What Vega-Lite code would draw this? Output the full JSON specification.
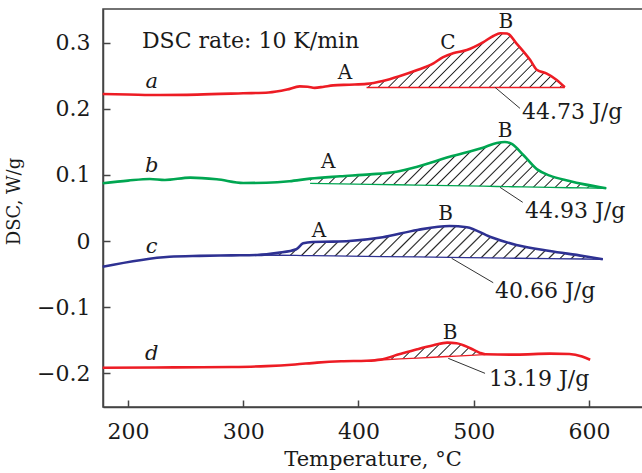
{
"$schema":"https://vega.github.io/schema/vega-lite/v6.json",
"autosize":{"type":"none"},
"padding":{"left":103,"top":9,"right":0,"bottom":66},
"width":539,"height":398,
"background":"white",
"config":{
 "view":{"stroke":"#444","strokeWidth":1.5,"strokeDash":[539,398,1000,0]},
 "font":"DejaVu Serif",
 "axis":{"grid":false,"domainColor":"#444","domainWidth":1.5,"tickColor":"#444","tickWidth":1.5,"tickSize":-7,"labelFont":"DejaVu Serif","labelFontSize":22,"labelColor":"#1a1a1a","titleFont":"DejaVu Serif","titleFontWeight":"normal","titleColor":"#1a1a1a"},
 "text":{"font":"DejaVu Serif","color":"#1a1a1a"}
},
"datasets":{
 "curves":[
  {"s":"a","T":178,"v":0.2227},{"s":"a","T":200,"v":0.2220},{"s":"a","T":228,"v":0.2212},{"s":"a","T":260,"v":0.2218},{"s":"a","T":300,"v":0.2238},{"s":"a","T":322,"v":0.2250},{"s":"a","T":338,"v":0.2295},{"s":"a","T":349,"v":0.2342},{"s":"a","T":356,"v":0.2336},{"s":"a","T":362,"v":0.2320},{"s":"a","T":370,"v":0.2338},{"s":"a","T":378,"v":0.2358},{"s":"a","T":392,"v":0.2368},
  {"s":"a","T":407,"v":0.2380,"base":0.2326},{"s":"a","T":421,"v":0.2424,"base":0.2326},{"s":"a","T":436,"v":0.2500,"base":0.2326},{"s":"a","T":451,"v":0.2590,"base":0.2326},{"s":"a","T":465,"v":0.2692,"base":0.2326},{"s":"a","T":473,"v":0.2783,"base":0.2326},{"s":"a","T":482,"v":0.2844,"base":0.2326},{"s":"a","T":494,"v":0.2894,"base":0.2326},{"s":"a","T":508,"v":0.3010,"base":0.2326},{"s":"a","T":517,"v":0.3106,"base":0.2326},{"s":"a","T":523,"v":0.3148,"base":0.2326},{"s":"a","T":529,"v":0.3144,"base":0.2326},{"s":"a","T":537,"v":0.2995,"base":0.2326},{"s":"a","T":549,"v":0.2742,"base":0.2326},{"s":"a","T":555,"v":0.2590,"base":0.2326},{"s":"a","T":563,"v":0.2540,"base":0.2326},{"s":"a","T":572,"v":0.2440,"base":0.2326},{"s":"a","T":579,"v":0.2329,"base":0.2326},
  {"s":"b","T":178,"v":0.0874},{"s":"b","T":200,"v":0.0915},{"s":"b","T":219,"v":0.0940},{"s":"b","T":232,"v":0.0925},{"s":"b","T":254,"v":0.0960},{"s":"b","T":277,"v":0.0935},{"s":"b","T":300,"v":0.0879},{"s":"b","T":320,"v":0.0883},{"s":"b","T":340,"v":0.0905},
  {"s":"b","T":358,"v":0.0945,"base":0.0874},{"s":"b","T":384,"v":0.0980,"base":0.0866},{"s":"b","T":410,"v":0.1010,"base":0.0859},{"s":"b","T":433,"v":0.1050,"base":0.0852},{"s":"b","T":451,"v":0.1126,"base":0.0846},{"s":"b","T":479,"v":0.1277,"base":0.0838},{"s":"b","T":508,"v":0.1414,"base":0.0830},{"s":"b","T":520,"v":0.1485,"base":0.0826},{"s":"b","T":527,"v":0.1500,"base":0.0824},{"s":"b","T":533,"v":0.1470,"base":0.0822},{"s":"b","T":543,"v":0.1303,"base":0.0819},{"s":"b","T":555,"v":0.1085,"base":0.0816},{"s":"b","T":566,"v":0.0990,"base":0.0812},{"s":"b","T":583,"v":0.0910,"base":0.0807},{"s":"b","T":595,"v":0.0862,"base":0.0804},{"s":"b","T":615,"v":0.0798,"base":0.0798},
  {"s":"c","T":178,"v":-0.0390},{"s":"c","T":236,"v":-0.0238},{"s":"c","T":262,"v":-0.0225},{"s":"c","T":290,"v":-0.0218},
  {"s":"c","T":312,"v":-0.0212,"base":-0.0212},{"s":"c","T":330,"v":-0.0180,"base":-0.0216},{"s":"c","T":346,"v":-0.0125,"base":-0.0219},{"s":"c","T":352,"v":-0.0035,"base":-0.0221},{"s":"c","T":360,"v":-0.0015,"base":-0.0222},{"s":"c","T":378,"v":-0.0010,"base":-0.0226},{"s":"c","T":392,"v":0.0000,"base":-0.0229},{"s":"c","T":421,"v":0.0056,"base":-0.0236},{"s":"c","T":451,"v":0.0167,"base":-0.0242},{"s":"c","T":479,"v":0.0227,"base":-0.0248},{"s":"c","T":494,"v":0.0208,"base":-0.0251},{"s":"c","T":514,"v":0.0065,"base":-0.0256},{"s":"c","T":537,"v":-0.0060,"base":-0.0261},{"s":"c","T":566,"v":-0.0152,"base":-0.0267},{"s":"c","T":595,"v":-0.0227,"base":-0.0273},{"s":"c","T":612,"v":-0.0277,"base":-0.0277},
  {"s":"d","T":178,"v":-0.1920},{"s":"d","T":240,"v":-0.1915},{"s":"d","T":290,"v":-0.1908},{"s":"d","T":320,"v":-0.1895},{"s":"d","T":345,"v":-0.1870},{"s":"d","T":364,"v":-0.1842},{"s":"d","T":385,"v":-0.1822},{"s":"d","T":407,"v":-0.1814},
  {"s":"d","T":419,"v":-0.1797,"base":-0.1803},{"s":"d","T":436,"v":-0.1712,"base":-0.1787},{"s":"d","T":451,"v":-0.1640,"base":-0.1774},{"s":"d","T":465,"v":-0.1580,"base":-0.1761},{"s":"d","T":477,"v":-0.1540,"base":-0.1750},{"s":"d","T":485,"v":-0.1548,"base":-0.1743},{"s":"d","T":497,"v":-0.1625,"base":-0.1732},{"s":"d","T":505,"v":-0.1692,"base":-0.1725},{"s":"d","T":510,"v":-0.1716,"base":-0.1720},
  {"s":"d","T":537,"v":-0.1722},{"s":"d","T":566,"v":-0.1707},{"s":"d","T":583,"v":-0.1712},{"s":"d","T":594,"v":-0.1750},{"s":"d","T":601,"v":-0.1800}
 ],
 "leaders":[
  {"T":518.4,"v":0.2329,"T2":540.1,"v2":0.2010},
  {"T":522.8,"v":0.0813,"T2":542.5,"v2":0.0586},
  {"T":480.8,"v":-0.0262,"T2":516.9,"v2":-0.0632},
  {"T":477.9,"v":-0.1778,"T2":509.8,"v2":-0.2005}
 ],
 "letters":[
  {"T":220.6,"v":0.2313,"label":"a"},
  {"T":220.6,"v":0.1050,"label":"b"},
  {"T":220.6,"v":-0.0187,"label":"c"},
  {"T":220.6,"v":-0.1803,"label":"d"}
 ],
 "peaks":[
  {"T":388.3,"v":0.2454,"label":"A"},
  {"T":477.6,"v":0.2909,"label":"C"},
  {"T":527.9,"v":0.3232,"label":"B"},
  {"T":373.8,"v":0.1101,"label":"A"},
  {"T":527.1,"v":0.1570,"label":"B"},
  {"T":365.7,"v":0.0065,"label":"A"},
  {"T":475.6,"v":0.0318,"label":"B"},
  {"T":479.4,"v":-0.1490,"label":"B"}
 ],
 "values":[
  {"T":541.9,"v":0.1844,"label":"44.73 J/g"},
  {"T":544.5,"v":0.0344,"label":"44.93 J/g"},
  {"T":518.4,"v":-0.0868,"label":"40.66 J/g"},
  {"T":513.2,"v":-0.2197,"label":"13.19 J/g"}
 ],
 "heading":[
  {"T":212.1,"v":0.2919,"label":"DSC rate: 10 K/min"}
 ]
},
"encoding":{
 "x":{"field":"T","type":"quantitative","scale":{"domain":[178.3,646],"nice":false,"zero":false},"axis":{"values":[200,300,400,500,600],"title":"Temperature, °C","titleFontSize":21,"labelPadding":21,"titleY":41}},
 "y":{"field":"v","type":"quantitative","scale":{"domain":[-0.2515,0.3515],"nice":false,"zero":false},"axis":{"values":[-0.2,-0.1,0,0.1,0.2,0.3],"labelExpr":"datum.value == 0 ? '0' : format(datum.value, '.1f')","title":"DSC, W/g","titleFontSize":18,"labelPadding":20,"titleX":-80,"titleY":192}}
},
"layer":[
 {"data":{"name":"curves"},"transform":[{"filter":"datum.s == 'a' && datum.base != null"}],
  "mark":{"type":"area","interpolate":"monotone","opacity":1,"fill":{"gradient":"linear","x1":0,"y1":0,"x2":1.1848,"y2":0.3235,"stops":[
   {"offset":0.015,"color":"rgba(0,0,0,0)"},{"offset":0.02,"color":"#222"},{"offset":0.025,"color":"rgba(0,0,0,0)"},
   {"offset":0.055,"color":"rgba(0,0,0,0)"},{"offset":0.06,"color":"#222"},{"offset":0.065,"color":"rgba(0,0,0,0)"},
   {"offset":0.095,"color":"rgba(0,0,0,0)"},{"offset":0.1,"color":"#222"},{"offset":0.105,"color":"rgba(0,0,0,0)"},
   {"offset":0.135,"color":"rgba(0,0,0,0)"},{"offset":0.14,"color":"#222"},{"offset":0.145,"color":"rgba(0,0,0,0)"},
   {"offset":0.175,"color":"rgba(0,0,0,0)"},{"offset":0.18,"color":"#222"},{"offset":0.185,"color":"rgba(0,0,0,0)"},
   {"offset":0.215,"color":"rgba(0,0,0,0)"},{"offset":0.22,"color":"#222"},{"offset":0.225,"color":"rgba(0,0,0,0)"},
   {"offset":0.255,"color":"rgba(0,0,0,0)"},{"offset":0.26,"color":"#222"},{"offset":0.265,"color":"rgba(0,0,0,0)"},
   {"offset":0.295,"color":"rgba(0,0,0,0)"},{"offset":0.3,"color":"#222"},{"offset":0.305,"color":"rgba(0,0,0,0)"},
   {"offset":0.335,"color":"rgba(0,0,0,0)"},{"offset":0.34,"color":"#222"},{"offset":0.345,"color":"rgba(0,0,0,0)"},
   {"offset":0.375,"color":"rgba(0,0,0,0)"},{"offset":0.38,"color":"#222"},{"offset":0.385,"color":"rgba(0,0,0,0)"},
   {"offset":0.415,"color":"rgba(0,0,0,0)"},{"offset":0.42,"color":"#222"},{"offset":0.425,"color":"rgba(0,0,0,0)"},
   {"offset":0.455,"color":"rgba(0,0,0,0)"},{"offset":0.46,"color":"#222"},{"offset":0.465,"color":"rgba(0,0,0,0)"},
   {"offset":0.495,"color":"rgba(0,0,0,0)"},{"offset":0.5,"color":"#222"},{"offset":0.505,"color":"rgba(0,0,0,0)"},
   {"offset":0.535,"color":"rgba(0,0,0,0)"},{"offset":0.54,"color":"#222"},{"offset":0.545,"color":"rgba(0,0,0,0)"},
   {"offset":0.575,"color":"rgba(0,0,0,0)"},{"offset":0.58,"color":"#222"},{"offset":0.585,"color":"rgba(0,0,0,0)"},
   {"offset":0.615,"color":"rgba(0,0,0,0)"},{"offset":0.62,"color":"#222"},{"offset":0.625,"color":"rgba(0,0,0,0)"},
   {"offset":0.655,"color":"rgba(0,0,0,0)"},{"offset":0.66,"color":"#222"},{"offset":0.665,"color":"rgba(0,0,0,0)"},
   {"offset":0.695,"color":"rgba(0,0,0,0)"},{"offset":0.7,"color":"#222"},{"offset":0.705,"color":"rgba(0,0,0,0)"},
   {"offset":0.735,"color":"rgba(0,0,0,0)"},{"offset":0.74,"color":"#222"},{"offset":0.745,"color":"rgba(0,0,0,0)"},
   {"offset":0.775,"color":"rgba(0,0,0,0)"},{"offset":0.78,"color":"#222"},{"offset":0.785,"color":"rgba(0,0,0,0)"},
   {"offset":0.815,"color":"rgba(0,0,0,0)"},{"offset":0.82,"color":"#222"},{"offset":0.825,"color":"rgba(0,0,0,0)"},
   {"offset":0.855,"color":"rgba(0,0,0,0)"},{"offset":0.86,"color":"#222"},{"offset":0.865,"color":"rgba(0,0,0,0)"},
   {"offset":0.895,"color":"rgba(0,0,0,0)"},{"offset":0.9,"color":"#222"},{"offset":0.905,"color":"rgba(0,0,0,0)"},
   {"offset":0.935,"color":"rgba(0,0,0,0)"},{"offset":0.94,"color":"#222"},{"offset":0.945,"color":"rgba(0,0,0,0)"},
   {"offset":0.975,"color":"rgba(0,0,0,0)"},{"offset":0.98,"color":"#222"},{"offset":0.985,"color":"rgba(0,0,0,0)"}
  ]}},
  "encoding":{"y2":{"field":"base"}}},
 {"data":{"name":"curves"},"transform":[{"filter":"datum.s == 'b' && datum.base != null"}],
  "mark":{"type":"area","interpolate":"monotone","opacity":1,"fill":{"gradient":"linear","x1":0,"y1":0,"x2":1.1287,"y2":0.1764,"stops":[
   {"offset":0.012,"color":"rgba(0,0,0,0)"},{"offset":0.016,"color":"#222"},{"offset":0.02,"color":"rgba(0,0,0,0)"},
   {"offset":0.044,"color":"rgba(0,0,0,0)"},{"offset":0.048,"color":"#222"},{"offset":0.052,"color":"rgba(0,0,0,0)"},
   {"offset":0.076,"color":"rgba(0,0,0,0)"},{"offset":0.08,"color":"#222"},{"offset":0.084,"color":"rgba(0,0,0,0)"},
   {"offset":0.108,"color":"rgba(0,0,0,0)"},{"offset":0.112,"color":"#222"},{"offset":0.116,"color":"rgba(0,0,0,0)"},
   {"offset":0.14,"color":"rgba(0,0,0,0)"},{"offset":0.144,"color":"#222"},{"offset":0.148,"color":"rgba(0,0,0,0)"},
   {"offset":0.172,"color":"rgba(0,0,0,0)"},{"offset":0.176,"color":"#222"},{"offset":0.18,"color":"rgba(0,0,0,0)"},
   {"offset":0.204,"color":"rgba(0,0,0,0)"},{"offset":0.208,"color":"#222"},{"offset":0.212,"color":"rgba(0,0,0,0)"},
   {"offset":0.236,"color":"rgba(0,0,0,0)"},{"offset":0.24,"color":"#222"},{"offset":0.244,"color":"rgba(0,0,0,0)"},
   {"offset":0.268,"color":"rgba(0,0,0,0)"},{"offset":0.272,"color":"#222"},{"offset":0.276,"color":"rgba(0,0,0,0)"},
   {"offset":0.3,"color":"rgba(0,0,0,0)"},{"offset":0.304,"color":"#222"},{"offset":0.308,"color":"rgba(0,0,0,0)"},
   {"offset":0.332,"color":"rgba(0,0,0,0)"},{"offset":0.336,"color":"#222"},{"offset":0.34,"color":"rgba(0,0,0,0)"},
   {"offset":0.364,"color":"rgba(0,0,0,0)"},{"offset":0.368,"color":"#222"},{"offset":0.372,"color":"rgba(0,0,0,0)"},
   {"offset":0.396,"color":"rgba(0,0,0,0)"},{"offset":0.4,"color":"#222"},{"offset":0.404,"color":"rgba(0,0,0,0)"},
   {"offset":0.428,"color":"rgba(0,0,0,0)"},{"offset":0.432,"color":"#222"},{"offset":0.436,"color":"rgba(0,0,0,0)"},
   {"offset":0.46,"color":"rgba(0,0,0,0)"},{"offset":0.464,"color":"#222"},{"offset":0.468,"color":"rgba(0,0,0,0)"},
   {"offset":0.492,"color":"rgba(0,0,0,0)"},{"offset":0.496,"color":"#222"},{"offset":0.5,"color":"rgba(0,0,0,0)"},
   {"offset":0.524,"color":"rgba(0,0,0,0)"},{"offset":0.528,"color":"#222"},{"offset":0.532,"color":"rgba(0,0,0,0)"},
   {"offset":0.556,"color":"rgba(0,0,0,0)"},{"offset":0.56,"color":"#222"},{"offset":0.564,"color":"rgba(0,0,0,0)"},
   {"offset":0.588,"color":"rgba(0,0,0,0)"},{"offset":0.592,"color":"#222"},{"offset":0.596,"color":"rgba(0,0,0,0)"},
   {"offset":0.62,"color":"rgba(0,0,0,0)"},{"offset":0.624,"color":"#222"},{"offset":0.628,"color":"rgba(0,0,0,0)"},
   {"offset":0.652,"color":"rgba(0,0,0,0)"},{"offset":0.656,"color":"#222"},{"offset":0.66,"color":"rgba(0,0,0,0)"},
   {"offset":0.684,"color":"rgba(0,0,0,0)"},{"offset":0.688,"color":"#222"},{"offset":0.692,"color":"rgba(0,0,0,0)"},
   {"offset":0.716,"color":"rgba(0,0,0,0)"},{"offset":0.72,"color":"#222"},{"offset":0.724,"color":"rgba(0,0,0,0)"},
   {"offset":0.748,"color":"rgba(0,0,0,0)"},{"offset":0.752,"color":"#222"},{"offset":0.756,"color":"rgba(0,0,0,0)"},
   {"offset":0.78,"color":"rgba(0,0,0,0)"},{"offset":0.784,"color":"#222"},{"offset":0.788,"color":"rgba(0,0,0,0)"},
   {"offset":0.812,"color":"rgba(0,0,0,0)"},{"offset":0.816,"color":"#222"},{"offset":0.82,"color":"rgba(0,0,0,0)"},
   {"offset":0.844,"color":"rgba(0,0,0,0)"},{"offset":0.848,"color":"#222"},{"offset":0.852,"color":"rgba(0,0,0,0)"},
   {"offset":0.876,"color":"rgba(0,0,0,0)"},{"offset":0.88,"color":"#222"},{"offset":0.884,"color":"rgba(0,0,0,0)"},
   {"offset":0.908,"color":"rgba(0,0,0,0)"},{"offset":0.912,"color":"#222"},{"offset":0.916,"color":"rgba(0,0,0,0)"},
   {"offset":0.94,"color":"rgba(0,0,0,0)"},{"offset":0.944,"color":"#222"},{"offset":0.948,"color":"rgba(0,0,0,0)"},
   {"offset":0.972,"color":"rgba(0,0,0,0)"},{"offset":0.976,"color":"#222"},{"offset":0.98,"color":"rgba(0,0,0,0)"}
  ]}},
  "encoding":{"y2":{"field":"base"}}},
 {"data":{"name":"curves"},"transform":[{"filter":"datum.s == 'c' && datum.base != null"}],
  "mark":{"type":"area","interpolate":"monotone","opacity":1,"fill":{"gradient":"linear","x1":0,"y1":0,"x2":1.0862,"y2":0.1046,"stops":[
   {"offset":0.011,"color":"rgba(0,0,0,0)"},{"offset":0.015,"color":"#222"},{"offset":0.019,"color":"rgba(0,0,0,0)"},
   {"offset":0.041,"color":"rgba(0,0,0,0)"},{"offset":0.045,"color":"#222"},{"offset":0.049,"color":"rgba(0,0,0,0)"},
   {"offset":0.071,"color":"rgba(0,0,0,0)"},{"offset":0.075,"color":"#222"},{"offset":0.079,"color":"rgba(0,0,0,0)"},
   {"offset":0.101,"color":"rgba(0,0,0,0)"},{"offset":0.105,"color":"#222"},{"offset":0.109,"color":"rgba(0,0,0,0)"},
   {"offset":0.131,"color":"rgba(0,0,0,0)"},{"offset":0.135,"color":"#222"},{"offset":0.139,"color":"rgba(0,0,0,0)"},
   {"offset":0.161,"color":"rgba(0,0,0,0)"},{"offset":0.165,"color":"#222"},{"offset":0.169,"color":"rgba(0,0,0,0)"},
   {"offset":0.191,"color":"rgba(0,0,0,0)"},{"offset":0.195,"color":"#222"},{"offset":0.199,"color":"rgba(0,0,0,0)"},
   {"offset":0.221,"color":"rgba(0,0,0,0)"},{"offset":0.225,"color":"#222"},{"offset":0.229,"color":"rgba(0,0,0,0)"},
   {"offset":0.251,"color":"rgba(0,0,0,0)"},{"offset":0.255,"color":"#222"},{"offset":0.259,"color":"rgba(0,0,0,0)"},
   {"offset":0.281,"color":"rgba(0,0,0,0)"},{"offset":0.285,"color":"#222"},{"offset":0.289,"color":"rgba(0,0,0,0)"},
   {"offset":0.311,"color":"rgba(0,0,0,0)"},{"offset":0.315,"color":"#222"},{"offset":0.319,"color":"rgba(0,0,0,0)"},
   {"offset":0.341,"color":"rgba(0,0,0,0)"},{"offset":0.345,"color":"#222"},{"offset":0.349,"color":"rgba(0,0,0,0)"},
   {"offset":0.371,"color":"rgba(0,0,0,0)"},{"offset":0.375,"color":"#222"},{"offset":0.379,"color":"rgba(0,0,0,0)"},
   {"offset":0.401,"color":"rgba(0,0,0,0)"},{"offset":0.405,"color":"#222"},{"offset":0.409,"color":"rgba(0,0,0,0)"},
   {"offset":0.431,"color":"rgba(0,0,0,0)"},{"offset":0.435,"color":"#222"},{"offset":0.439,"color":"rgba(0,0,0,0)"},
   {"offset":0.461,"color":"rgba(0,0,0,0)"},{"offset":0.465,"color":"#222"},{"offset":0.469,"color":"rgba(0,0,0,0)"},
   {"offset":0.491,"color":"rgba(0,0,0,0)"},{"offset":0.495,"color":"#222"},{"offset":0.499,"color":"rgba(0,0,0,0)"},
   {"offset":0.521,"color":"rgba(0,0,0,0)"},{"offset":0.525,"color":"#222"},{"offset":0.529,"color":"rgba(0,0,0,0)"},
   {"offset":0.551,"color":"rgba(0,0,0,0)"},{"offset":0.555,"color":"#222"},{"offset":0.559,"color":"rgba(0,0,0,0)"},
   {"offset":0.581,"color":"rgba(0,0,0,0)"},{"offset":0.585,"color":"#222"},{"offset":0.589,"color":"rgba(0,0,0,0)"},
   {"offset":0.611,"color":"rgba(0,0,0,0)"},{"offset":0.615,"color":"#222"},{"offset":0.619,"color":"rgba(0,0,0,0)"},
   {"offset":0.641,"color":"rgba(0,0,0,0)"},{"offset":0.645,"color":"#222"},{"offset":0.649,"color":"rgba(0,0,0,0)"},
   {"offset":0.671,"color":"rgba(0,0,0,0)"},{"offset":0.675,"color":"#222"},{"offset":0.679,"color":"rgba(0,0,0,0)"},
   {"offset":0.701,"color":"rgba(0,0,0,0)"},{"offset":0.705,"color":"#222"},{"offset":0.709,"color":"rgba(0,0,0,0)"},
   {"offset":0.731,"color":"rgba(0,0,0,0)"},{"offset":0.735,"color":"#222"},{"offset":0.739,"color":"rgba(0,0,0,0)"},
   {"offset":0.761,"color":"rgba(0,0,0,0)"},{"offset":0.765,"color":"#222"},{"offset":0.769,"color":"rgba(0,0,0,0)"},
   {"offset":0.791,"color":"rgba(0,0,0,0)"},{"offset":0.795,"color":"#222"},{"offset":0.799,"color":"rgba(0,0,0,0)"},
   {"offset":0.821,"color":"rgba(0,0,0,0)"},{"offset":0.825,"color":"#222"},{"offset":0.829,"color":"rgba(0,0,0,0)"},
   {"offset":0.851,"color":"rgba(0,0,0,0)"},{"offset":0.855,"color":"#222"},{"offset":0.859,"color":"rgba(0,0,0,0)"},
   {"offset":0.881,"color":"rgba(0,0,0,0)"},{"offset":0.885,"color":"#222"},{"offset":0.889,"color":"rgba(0,0,0,0)"},
   {"offset":0.911,"color":"rgba(0,0,0,0)"},{"offset":0.915,"color":"#222"},{"offset":0.919,"color":"rgba(0,0,0,0)"},
   {"offset":0.941,"color":"rgba(0,0,0,0)"},{"offset":0.945,"color":"#222"},{"offset":0.949,"color":"rgba(0,0,0,0)"},
   {"offset":0.971,"color":"rgba(0,0,0,0)"},{"offset":0.975,"color":"#222"},{"offset":0.979,"color":"rgba(0,0,0,0)"}
  ]}},
  "encoding":{"y2":{"field":"base"}}},
 {"data":{"name":"curves"},"transform":[{"filter":"datum.s == 'd' && datum.base != null"}],
  "mark":{"type":"area","interpolate":"monotone","opacity":1,"fill":{"gradient":"linear","x1":0,"y1":0,"x2":1.1341,"y2":0.1871,"stops":[
   {"offset":0.034,"color":"rgba(0,0,0,0)"},{"offset":0.045,"color":"#222"},{"offset":0.056,"color":"rgba(0,0,0,0)"},
   {"offset":0.124,"color":"rgba(0,0,0,0)"},{"offset":0.135,"color":"#222"},{"offset":0.146,"color":"rgba(0,0,0,0)"},
   {"offset":0.214,"color":"rgba(0,0,0,0)"},{"offset":0.225,"color":"#222"},{"offset":0.236,"color":"rgba(0,0,0,0)"},
   {"offset":0.304,"color":"rgba(0,0,0,0)"},{"offset":0.315,"color":"#222"},{"offset":0.326,"color":"rgba(0,0,0,0)"},
   {"offset":0.394,"color":"rgba(0,0,0,0)"},{"offset":0.405,"color":"#222"},{"offset":0.416,"color":"rgba(0,0,0,0)"},
   {"offset":0.484,"color":"rgba(0,0,0,0)"},{"offset":0.495,"color":"#222"},{"offset":0.506,"color":"rgba(0,0,0,0)"},
   {"offset":0.574,"color":"rgba(0,0,0,0)"},{"offset":0.585,"color":"#222"},{"offset":0.596,"color":"rgba(0,0,0,0)"},
   {"offset":0.664,"color":"rgba(0,0,0,0)"},{"offset":0.675,"color":"#222"},{"offset":0.686,"color":"rgba(0,0,0,0)"},
   {"offset":0.754,"color":"rgba(0,0,0,0)"},{"offset":0.765,"color":"#222"},{"offset":0.776,"color":"rgba(0,0,0,0)"},
   {"offset":0.844,"color":"rgba(0,0,0,0)"},{"offset":0.855,"color":"#222"},{"offset":0.866,"color":"rgba(0,0,0,0)"},
   {"offset":0.934,"color":"rgba(0,0,0,0)"},{"offset":0.945,"color":"#222"},{"offset":0.956,"color":"rgba(0,0,0,0)"}
  ]}},
  "encoding":{"y2":{"field":"base"}}},
 {"data":{"name":"curves"},"transform":[{"filter":"datum.base != null"}],
  "mark":{"type":"line","strokeWidth":1.3,"interpolate":"linear"},
  "encoding":{
   "y":{"field":"base","type":"quantitative","scale":{"domain":[-0.2515,0.3515],"nice":false,"zero":false},"title":"DSC, W/g"},
   "color":{"field":"s","type":"nominal","scale":{"domain":["a","b","c","d"],"range":["#ed1c24","#00a651","#2e3192","#ed1c24"]},"legend":null}}},
 {"data":{"name":"curves"},
  "mark":{"type":"line","strokeWidth":2.6,"interpolate":"monotone"},
  "encoding":{
   "color":{"field":"s","type":"nominal","scale":{"domain":["a","b","c","d"],"range":["#ed1c24","#00a651","#2e3192","#ed1c24"]},"legend":null}}},
 {"data":{"name":"leaders"},
  "mark":{"type":"rule","color":"#333","strokeWidth":1},
  "encoding":{"x2":{"field":"T2"},"y2":{"field":"v2"}}},
 {"data":{"name":"letters"},
  "mark":{"type":"text","align":"center","baseline":"alphabetic","fontStyle":"italic","fontSize":21,"font":"DejaVu Serif"},
  "encoding":{"text":{"field":"label"}}},
 {"data":{"name":"peaks"},
  "mark":{"type":"text","align":"center","baseline":"alphabetic","fontSize":20,"font":"DejaVu Serif"},
  "encoding":{"text":{"field":"label"}}},
 {"data":{"name":"values"},
  "mark":{"type":"text","align":"left","baseline":"alphabetic","fontSize":22,"font":"DejaVu Serif"},
  "encoding":{"text":{"field":"label"}}},
 {"data":{"name":"heading"},
  "mark":{"type":"text","align":"left","baseline":"alphabetic","fontSize":22,"font":"DejaVu Serif"},
  "encoding":{"text":{"field":"label"}}}
]
}
